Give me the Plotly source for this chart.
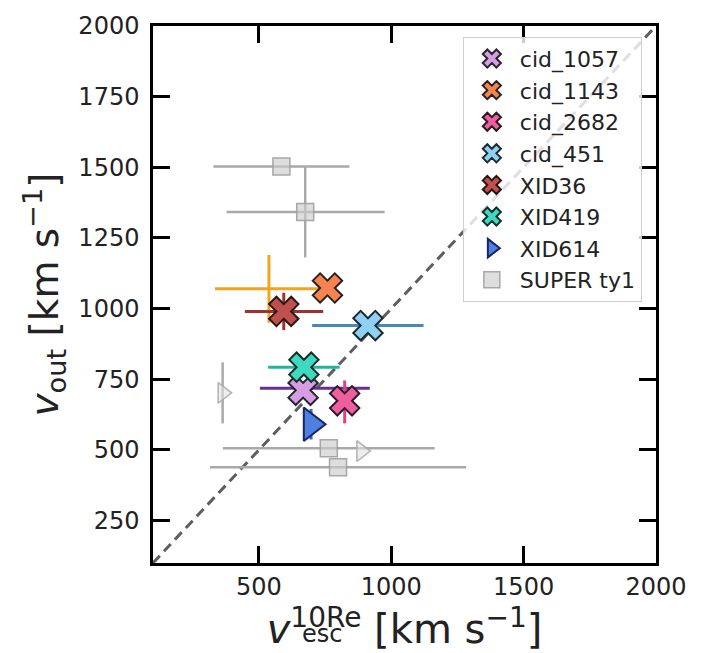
import plotly.graph_objects as go

# ---------------- data ----------------
names = ["cid_1057", "cid_1143", "cid_2682", "cid_451", "XID36", "XID419", "XID614"]
v_esc = [667, 759, 824, 912, 594, 670, 697]
v_out = [711, 1073, 674, 940, 990, 793, 591]
symbols = ["x", "x", "x", "x", "x", "x", "triangle-right"]
fill_colors = ["#d59ee3", "#f5844f", "#ef5fa0", "#8fd0f5", "#c0504d", "#3fd9bf", "#4f80e0"]
edge_colors = ["#2a2230", "#2a2020", "#2a1a22", "#1e2a33", "#2a1515", "#16302b", "#1a2466"]

# error bars (centre, minus/plus errors) of the targets
bar_x = [667, 538, 824, 912, 594, 670, 697]
bar_y = [718, 1070, 674, 940, 990, 793, 591]
bar_xerr_minus = [163, 204, 0, 211, 147, 135, 0]
bar_xerr_plus = [252, 204, 0, 210, 149, 135, 0]
bar_yerr_minus = [0, 120, 80, 0, 66, 0, 54]
bar_yerr_plus = [0, 120, 72, 0, 66, 0, 54]
bar_colors = ["#6a2f96", "#f7a21b", "#e2417f", "#4a88b8", "#9c3232", "#25b3a1", "#3766cf"]

# SUPER type-1 comparison sample
super_x = [585, 675, 764, 799]
super_y = [1503, 1342, 506, 439]
super_xerr_minus = [257, 297, 400, 484]
super_xerr_plus = [257, 300, 400, 484]
super_yerr = [0, 161, 0, 0]
super_lim_x = [363, 887]
super_lim_y = [702, 496]
super_lim_yerr = [108, 0]

# 1:1 line
diag = [100, 2000]

ticks_x = [500, 1000, 1500, 2000]
ticks_y = [250, 500, 750, 1000, 1250, 1500, 1750, 2000]

FONT = "DejaVu Sans"

fig = go.Figure()

# dashed 1:1 line
fig.add_trace(go.Scatter(x=diag, y=diag, mode="lines",
                         line=dict(color="#5e5e5e", width=3, dash="10px,6px"),
                         showlegend=False, hoverinfo="skip"))

# SUPER error bars + markers
fig.add_trace(go.Scatter(
    x=super_x, y=super_y, mode="markers", name="SUPER ty1",
    marker=dict(symbol="square", size=17, color="rgba(205,205,205,0.65)",
                line=dict(color="rgba(160,160,160,0.9)", width=1.5)),
    error_x=dict(type="data", array=super_xerr_plus, arrayminus=super_xerr_minus,
                 color="#a9a9a9", thickness=2.5, width=0),
    error_y=dict(type="data", array=super_yerr, color="#a9a9a9", thickness=2.5, width=0),
    legendrank=1000))
fig.add_trace(go.Scatter(
    x=super_lim_x, y=super_lim_y, mode="markers", showlegend=False,
    marker=dict(symbol="triangle-right", size=18, color="rgba(225,225,225,0.6)",
                line=dict(color="rgba(170,170,170,0.9)", width=1.5)),
    error_y=dict(type="data", array=super_lim_yerr, color="#a9a9a9", thickness=2.5, width=0)))

# coloured error bars
for i in range(len(names)):
    fig.add_trace(go.Scatter(
        x=[bar_x[i]], y=[bar_y[i]], mode="markers", showlegend=False, hoverinfo="skip",
        marker=dict(size=1, color="rgba(0,0,0,0)"),
        error_x=dict(type="data", array=[bar_xerr_plus[i]], arrayminus=[bar_xerr_minus[i]],
                     color=bar_colors[i], thickness=3, width=0),
        error_y=dict(type="data", array=[bar_yerr_plus[i]], arrayminus=[bar_yerr_minus[i]],
                     color=bar_colors[i], thickness=3, width=0)))

# targets
for i in range(len(names)):
    fig.add_trace(go.Scatter(
        x=[v_esc[i]], y=[v_out[i]], mode="markers", name=names[i],
        marker=dict(symbol=symbols[i], size=26 if symbols[i] == "x" else 29,
                    color=fill_colors[i], line=dict(color=edge_colors[i], width=2)),
        legendrank=i + 1))

axis_common = dict(
    range=[100, 2000], showgrid=False, zeroline=False,
    showline=True, linecolor="black", linewidth=2.5, mirror="allticks",
    ticks="inside", ticklen=17, tickwidth=2.5, tickcolor="black",
    tickfont=dict(family=FONT, size=24, color="#222"),
)

fig.update_xaxes(**axis_common, tickvals=ticks_x, ticktext=[str(t) for t in ticks_x],
                 title=dict(text="<i>v</i><sup>10Re</sup> [km s<sup>−1</sup>]",
                            font=dict(family=FONT, size=40, color="#222"), standoff=5))
fig.update_yaxes(**axis_common, tickvals=ticks_y, ticktext=[str(t) for t in ticks_y],
                 ticklabelstandoff=6,
                 title=dict(text="<i>v</i><sub>out</sub> [km s<sup>−1</sup>]",
                            font=dict(family=FONT, size=39, color="#222"), standoff=8))

fig.add_annotation(text="esc", xref="paper", yref="paper", x=0.292, y=-0.132,
                   xanchor="left", yanchor="middle", showarrow=False,
                   font=dict(family=FONT, size=24, color="#222"))

fig.update_layout(
    width=715, height=653,
    margin=dict(l=153, r=59, t=19, b=90),
    paper_bgcolor="white", plot_bgcolor="white",
    font=dict(family=FONT, color="#222"),
    legend=dict(x=0.616, y=0.98, xanchor="left", yanchor="top",
                bgcolor="rgba(255,255,255,0.8)", bordercolor="#cfcfcf", borderwidth=1,
                font=dict(family=FONT, size=22, color="#222"), itemwidth=46,
                traceorder="normal"),
)

fig.write_html("out.html")
